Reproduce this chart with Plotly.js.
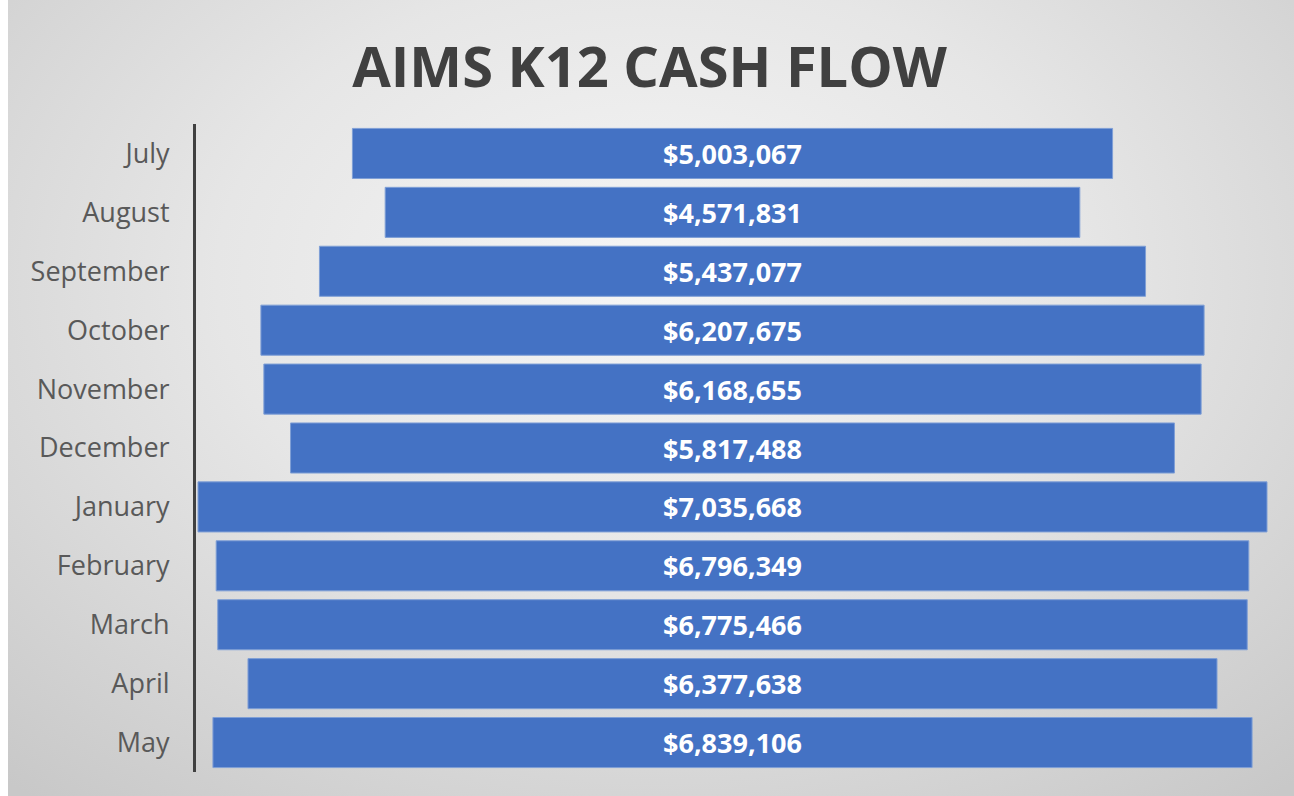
<!DOCTYPE html>
<html>
<head>
<meta charset="utf-8">
<script src="https://cdn.plot.ly/plotly-3.0.1.min.js"></script>
<style>
html,body{margin:0;padding:0;background:#ffffff;}
#wrap{position:absolute;left:8px;top:0;width:1286px;height:796px;
 background:radial-gradient(ellipse 75% 85% at 50% 35%, #f6f6f6 0%, #e6e6e6 45%, #c8c8c8 100%);}
#chart{position:absolute;left:0;top:0;width:1294px;height:796px;}
</style>
</head>
<body>
<div id="wrap"></div>
<div id="chart"></div>
<script>
const months = ["July","August","September","October","November","December","January","February","March","April","May"];
const cashFlow = [5003067,4571831,5437077,6207675,6168655,5817488,7035668,6796349,6775466,6377638,6839106];
const valueLabels = ["$5,003,067","$4,571,831","$5,437,077","$6,207,675","$6,168,655","$5,817,488","$7,035,668","$6,796,349","$6,775,466","$6,377,638","$6,839,106"];

const maxV = Math.max(...cashFlow);
const half = maxV * 1073 / 1069 / 2;

const trace = {
  type: 'funnel',
  y: months,
  x: cashFlow,
  text: valueLabels,
  textinfo: 'text',
  textposition: 'inside',
  insidetextanchor: 'middle',
  textfont: {family: 'Open Sans, sans-serif', size: 27, color: '#ffffff', weight: 'bold'},
  constraintext: 'none',
  marker: {color: '#4472C4', line: {color: '#7f9fd6', width: 1}},
  connector: {visible: false},
  hoverinfo: 'y+text'
};

const layout = {
  width: 1294, height: 796,
  paper_bgcolor: 'rgba(0,0,0,0)',
  plot_bgcolor: 'rgba(0,0,0,0)',
  margin: {l: 196, r: 25, t: 124, b: 24},
  title: {text: 'AIMS K12 CASH FLOW', x: 0.502, xanchor: 'center', y: 0.915, yanchor: 'middle',
          font: {family: 'Open Sans, sans-serif', size: 56, color: '#404040', weight: 'bold'}},
  funnelgap: 0.15,
  showlegend: false,
  xaxis: {range: [-half, half], visible: false, fixedrange: true},
  yaxis: {
    showline: true, linecolor: '#404040', linewidth: 3,
    ticks: '', ticklabelstandoff: 18,
    tickfont: {family: 'Open Sans, sans-serif', size: 27, color: '#595959'},
    showgrid: false, zeroline: false, fixedrange: true, automargin: false
  }
};

Plotly.newPlot('chart', [trace], layout, {displayModeBar: false, staticPlot: true});
</script>
</body>
</html>
